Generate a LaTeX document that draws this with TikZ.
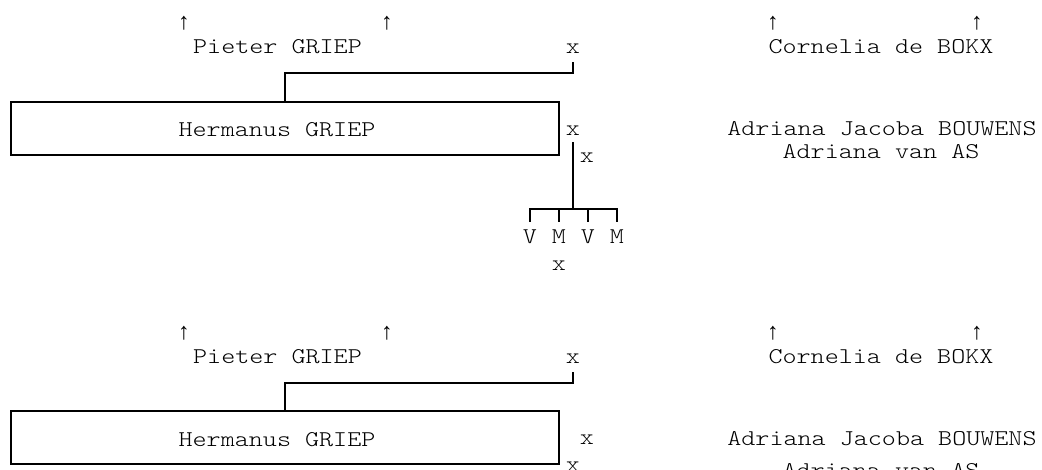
\documentclass[tikz,border=0pt]{standalone}
\usepackage{fontspec}
\newfontfamily\courf{lmmonolt10-regular}[Extension=.otf,FakeStretch=1.19]
\newfontfamily\arrf{Liberation Mono}
\begin{document}
\begin{tikzpicture}[x=1pt,y=-1pt,
  txt/.style={inner sep=0pt, anchor=base, font=\courf\fontsize{22.5}{27}\selectfont},
  arr/.style={inner sep=0pt, anchor=base, font=\arrf\fontsize{23.5}{28}\selectfont},
  ln/.style={line width=1.6pt, line join=miter},
  pbox/.style={draw, line width=1.6pt, minimum width=548pt, minimum height=53pt, inner sep=0pt}]
\useasboundingbox (0,0) rectangle (1042,469);
\clip (0,0) rectangle (1042,469);
% ---------- top block ----------
\node[arr] (a1) at (184,29) {↑};
\node[arr] (a2) at (387,29) {↑};
\node[arr] (a3) at (773,29) {↑};
\node[arr] (a4) at (977,29) {↑};
\node[txt] (p1) at (277.5,53) {Pieter GRIEP};
\node[txt] (x1) at (573,53) {x};
\node[txt] (c1) at (881,53) {Cornelia de BOKX};
\node[pbox] (b1) at (285,128.5) {};
\node[txt] (h1) at (277,136) {Hermanus GRIEP};
\node[txt] (x2) at (573,135) {x};
\node[txt] (aj1) at (882,135) {Adriana Jacoba BOUWENS};
\node[txt] (x3) at (587,162) {x};
\node[txt] (av1) at (881,158) {Adriana van AS};
\coordinate (k1) at (285,73);
\draw[ln] ([yshift=-9pt]x1.south) |- (k1) -- (k1 |- b1.north);
\coordinate (t1) at (573,142);
\coordinate (t2) at (573,209);
\node[txt] (v1) at (530,243) {V};
\node[txt] (m1) at (559,243) {M};
\node[txt] (v2) at (588,243) {V};
\node[txt] (m2) at (617,243) {M};
\node[txt] (x4) at (559,270) {x};
\draw[ln] (t1) -- (t2);
\draw[ln] ([yshift=7.5pt]v1.north) -- (v1.north |- t2) -- (m2.north |- t2) -- ([yshift=7.5pt]m2.north);
\draw[ln] ([yshift=7.5pt]m1.north) -- (m1.north |- t2);
\draw[ln] ([yshift=7.5pt]v2.north) -- (v2.north |- t2);
% ---------- bottom block ----------
\node[arr] (a5) at (184,339) {↑};
\node[arr] (a6) at (387,339) {↑};
\node[arr] (a7) at (773,339) {↑};
\node[arr] (a8) at (977,339) {↑};
\node[txt] (p2) at (277.5,363) {Pieter GRIEP};
\node[txt] (x5) at (573,363) {x};
\node[txt] (c2) at (881,363) {Cornelia de BOKX};
\node[pbox] (b2) at (285,437.5) {};
\node[txt] (h2) at (277,446) {Hermanus GRIEP};
\node[txt] (x6) at (587,444) {x};
\node[txt] (aj2) at (882,445) {Adriana Jacoba BOUWENS};
\node[txt] (x7) at (573,471) {x};
\node[txt] (av2) at (881,477) {Adriana van AS};
\coordinate (k2) at (285,383);
\draw[ln] ([yshift=-9pt]x5.south) |- (k2) -- (k2 |- b2.north);
\end{tikzpicture}
\end{document}
